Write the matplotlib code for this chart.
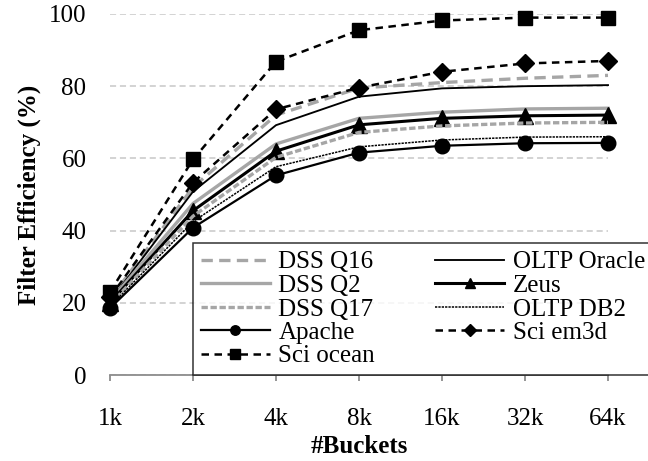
import numpy as np
import matplotlib
matplotlib.use("Agg")
import matplotlib.pyplot as plt

plt.rcParams["font.family"] = ["Liberation Serif", "DejaVu Serif"]

buckets     = ["1k", "2k", "4k", "8k", "16k", "32k", "64k"]
dss_q16     = [21.0, 52.0, 72.0, 79.5, 81.0, 82.2, 83.0]
oltp_oracle = [20.5, 50.8, 69.2, 77.1, 79.4, 80.0, 80.3]
dss_q2      = [20.5, 47.5, 64.0, 71.1, 72.8, 73.7, 73.9]
zeus        = [20.0, 45.5, 62.0, 69.3, 71.1, 71.8, 72.0]
dss_q17     = [19.5, 44.0, 60.3, 67.2, 69.0, 69.8, 70.0]
oltp_db2    = [19.0, 42.5, 57.7, 63.2, 65.1, 65.9, 66.0]
apache      = [18.5, 40.8, 55.3, 61.6, 63.5, 64.2, 64.3]
sci_em3d    = [21.5, 53.3, 73.6, 79.6, 84.0, 86.3, 87.0]
sci_ocean   = [23.0, 59.7, 86.8, 95.5, 98.2, 99.0, 99.0]

GRAY = "#a6a6a6"
x = np.arange(len(buckets))

fig = plt.figure(figsize=(6.48, 4.61), dpi=100)
ax = fig.add_axes([110 / 648, 86 / 461, 498 / 648, 361 / 461])

# series in Excel order (later ones drawn on top)
series = [
    ("DSS Q16",     dss_q16,     dict(color=GRAY, lw=2.4, ls=(0, (3.4, 1.9)))),
    ("OLTP Oracle", oltp_oracle, dict(color="black", lw=1.35)),
    ("DSS Q2",      dss_q2,      dict(color=GRAY, lw=2.4)),
    ("Zeus",        zeus,        dict(color="black", lw=2.2, marker="^", ms=11)),
    ("DSS Q17",     dss_q17,     dict(color=GRAY, lw=2.4, ls=(0, (1.9, 0.8)))),
    ("OLTP DB2",    oltp_db2,    dict(color="black", lw=1.1, ls=(0, (1.5, 0.7)))),
    ("Apache",      apache,      dict(color="black", lw=1.6, marker="o", ms=10.5)),
    ("Sci em3d",    sci_em3d,    dict(color="black", lw=1.8, ls=(0, (3.0, 2.2)), marker="D", ms=9)),
    ("Sci ocean",   sci_ocean,   dict(color="black", lw=1.8, ls=(0, (3.0, 2.2)), marker="s", ms=10)),
]

handles = {}
for name, vals, st in series:
    (h,) = ax.plot(x, vals, label=name, clip_on=False, **st)
    handles[name] = h

ax.set_xlim(0, len(buckets) - 1)
ax.set_ylim(0, 100)
ax.set_yticks(np.arange(0, 101, 20))
ax.set_xticks(x)
ax.set_xticklabels(buckets)

ax.yaxis.grid(True, color="#c8c8c8", lw=1.1, linestyle=(0, (4, 2.5)))
ax.set_axisbelow(True)
for s in ["top", "right", "left"]:
    ax.spines[s].set_visible(False)
ax.spines["bottom"].set_color("#8c8c8c")
ax.spines["bottom"].set_linewidth(1.3)

ax.tick_params(axis="y", length=0, pad=17, labelsize=18)
ax.tick_params(axis="x", length=4.5, width=1.3, color="#8c8c8c", pad=19, labelsize=18)

ax.set_xlabel("#Buckets", fontsize=18, fontweight="bold", labelpad=4)
ax.set_ylabel("Filter Efficiency (%)", fontsize=18, fontweight="bold", labelpad=6)

# Excel legend is row-major; matplotlib fills columns first
order = ["DSS Q16", "DSS Q2", "DSS Q17", "Apache", "Sci ocean",
         "OLTP Oracle", "Zeus", "OLTP DB2", "Sci em3d"]
leg = fig.legend([handles[n] for n in order], order, ncol=2,
                 loc="upper left", bbox_to_anchor=(193 / 648, 1 - 243 / 461),
                 fontsize=18, frameon=True, fancybox=False, borderaxespad=0,
                 handlelength=2.75, handletextpad=0.35, columnspacing=2.4,
                 labelspacing=0.04, borderpad=0.32, markerscale=0.65)
leg.get_frame().set_edgecolor("black")
leg.get_frame().set_linewidth(1.1)

fig.savefig("out.png", dpi=100)
